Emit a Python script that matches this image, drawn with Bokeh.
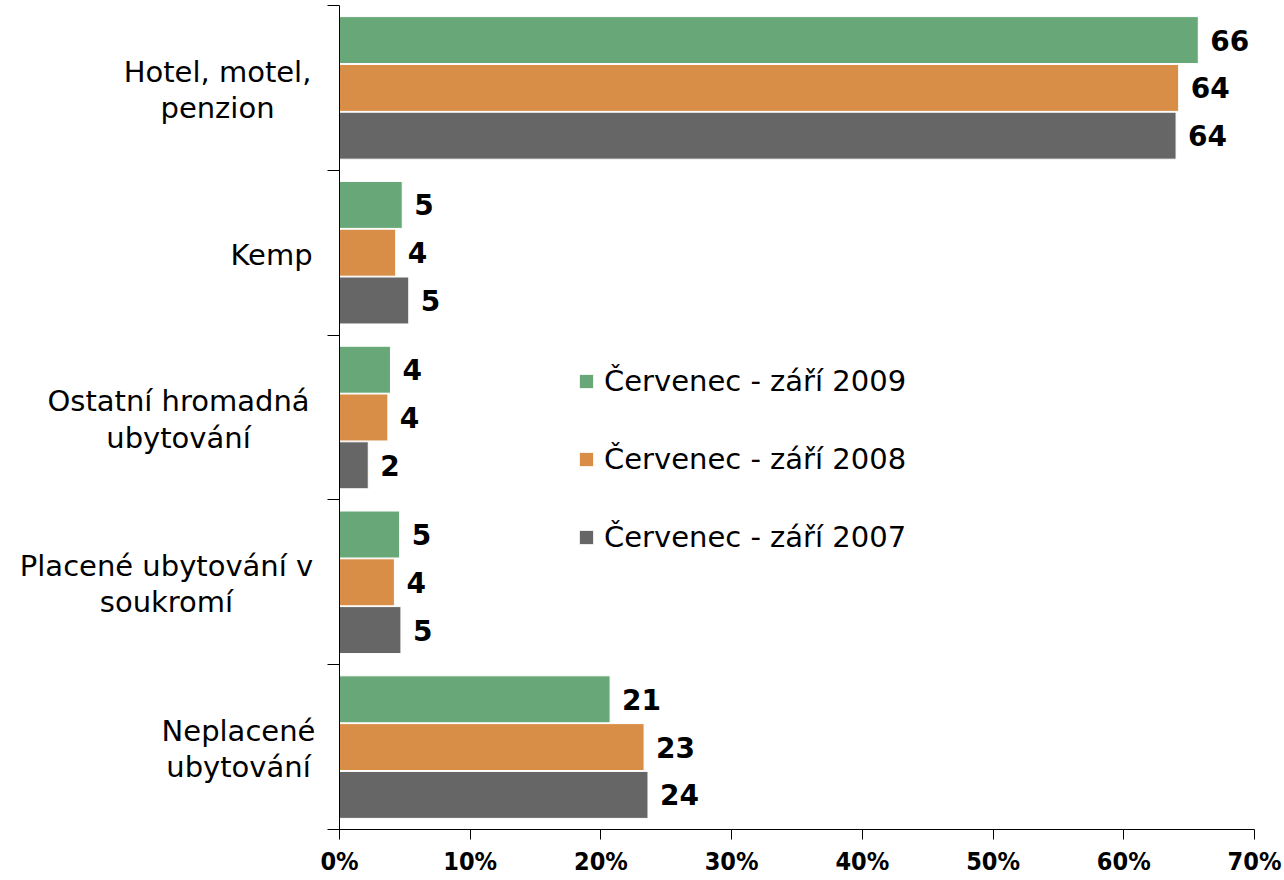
from bokeh.plotting import figure
from bokeh.layouts import row
from bokeh.models import Range1d, FixedTicker, ColumnDataSource, Legend, LegendItem
from bokeh.core.properties import value
from bokeh.embed import file_html
from bokeh.resources import INLINE

categories = ["Hotel, motel,\npenzion", "Kemp", "Ostatní hromadná\nubytování",
              "Placené ubytování v\nsoukromí", "Neplacené\nubytování"]
series_names = ["Červenec - září 2009", "Červenec - září 2008", "Červenec - září 2007"]
v2009 = [65.7, 4.8, 3.9, 4.6, 20.7]
v2008 = [64.2, 4.3, 3.7, 4.2, 23.3]
v2007 = [64.0, 5.3, 2.2, 4.7, 23.6]
x_ticks = [0, 10, 20, 30, 40, 50, 60, 70]
x_tick_labels = ["0%", "10%", "20%", "30%", "40%", "50%", "60%", "70%"]

# layout: horizontal centre (px) of each category label in the label panel
label_centres = [217, 271, 178, 166, 238]

colors = ["#68A878", "#D98E48", "#666666"]
offsets = [-0.29, 0.0, 0.29]
series = [v2009, v2008, v2007]

LEFT_W = 319
y_rng = Range1d(5, 0)

# label panel on the left
lp = figure(width=LEFT_W, height=878, output_backend="svg", toolbar_location=None,
            x_range=Range1d(0, LEFT_W), y_range=y_rng,
            min_border_left=0, min_border_right=0, min_border_top=5, min_border_bottom=45)
lp.axis.visible = False
lp.grid.visible = False
lp.outline_line_color = None
lsrc = ColumnDataSource(dict(x=label_centres, y=[i + 0.5 for i in range(len(categories))],
                             t=categories))
lp.text(x="x", y="y", text="t", source=lsrc, text_align="center", text_baseline="middle",
        y_offset=2,
        text_font=value("DejaVu Sans"), text_font_size="29px", text_line_height=1.07,
        text_color="black")

p = figure(width=1282 - LEFT_W, height=878, output_backend="svg", toolbar_location=None,
           x_range=Range1d(0, 70), y_range=y_rng,
           min_border_left=20, min_border_right=28, min_border_top=5, min_border_bottom=45)
p.outline_line_color = None
p.xgrid.visible = False
p.ygrid.visible = False
p.background_fill_color = "white"

renderers = []
for vals, col, off in zip(series, colors, offsets):
    src = ColumnDataSource(dict(
        y=[i + 0.5 + off for i in range(len(vals))],
        right=vals,
        lab=[str(int(v + 0.5)) for v in vals],
    ))
    r = p.hbar(y="y", left=0, right="right", height=0.285, source=src,
               fill_color=col, line_color="white", line_width=1)
    p.text(x="right", y="y", text="lab", source=src, x_offset=12,
           text_baseline="middle", text_align="left",
           text_font=value("DejaVu Sans"), text_font_style="bold",
           text_font_size="28px", text_color="black")
    renderers.append(r)

# x axis
xa = p.xaxis[0]
xa.ticker = FixedTicker(ticks=x_ticks, minor_ticks=[])
xa.major_label_overrides = {t: l for t, l in zip(x_ticks, x_tick_labels)}
xa.major_tick_out = 10
xa.major_tick_in = 0
xa.minor_tick_out = 0
xa.minor_tick_in = 0
xa.major_label_standoff = 7
xa.major_label_text_font = "DejaVu Sans Condensed"
xa.major_label_text_font_style = "bold"
xa.major_label_text_font_size = "25px"
xa.major_label_text_color = "black"
xa.axis_line_color = "black"
xa.major_tick_line_color = "black"

# y axis: tick marks at category boundaries only
ya = p.yaxis[0]
ya.ticker = FixedTicker(ticks=[], minor_ticks=list(range(len(categories) + 1)))
ya.major_tick_out = 0
ya.major_tick_in = 0
ya.minor_tick_out = 12
ya.minor_tick_in = 0
ya.major_label_standoff = 0
ya.axis_line_color = "black"
ya.minor_tick_line_color = "black"

legend = Legend(items=[LegendItem(label=n, renderers=[r]) for n, r in zip(series_names, renderers)],
                location=(238, 275), orientation="vertical",
                glyph_width=18, glyph_height=18, label_height=34, spacing=44,
                label_standoff=9, padding=0, margin=0,
                label_text_font="DejaVu Sans", label_text_font_size="29px",
                label_text_color="black",
                border_line_color=None, background_fill_alpha=0)
p.add_layout(legend)

layout = row(lp, p, spacing=0)
open("out.html", "w").write(file_html(layout, INLINE))
